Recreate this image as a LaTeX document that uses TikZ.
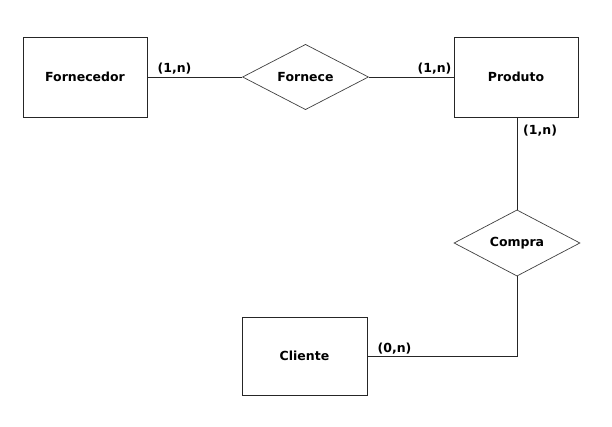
\documentclass[tikz,border=0pt]{standalone}
\usepackage{fontspec}
\setmainfont{DejaVu Sans}
\usetikzlibrary{shapes.geometric,shadows}

\begin{document}
\begin{tikzpicture}[x=1pt, y=-1pt,
	every node/.style={font=\fontsize{12.5}{14}\selectfont\bfseries},
	entidade/.style={draw=black!85, line width=0.9pt, fill=white, minimum width=124pt, minimum height=80pt, inner sep=0pt,
		drop shadow={shadow xshift=1.2pt, shadow yshift=-1.2pt, fill=gray!60, opacity=0.8}},
	relacao/.style={diamond, draw=black!75, line width=0.7pt, fill=white, minimum width=126pt, minimum height=61pt, inner sep=0pt},
	card/.style={inner sep=0pt},
	liga/.style={draw=black!85, line width=0.9pt}]
	\useasboundingbox (0,0) rectangle (612,427);

	\node[entidade] (forn) at (85,77) {Fornecedor};
	\node[relacao] (fornece) at (305.5,77) {Fornece};
	\node[entidade] (prod) at (516,77) {Produto};
	\node[relacao] (compra) at (517,243) {Compra};
	\node[entidade, minimum width=125pt, minimum height=78pt] (cli) at (304.5,356) {Cliente};

	\draw[liga] (forn.east) -- (fornece.west);
	\draw[liga] (fornece.east) -- (prod.west);
	\draw[liga] (prod.south -| compra.north) -- (compra.north);
	\draw[liga] (compra.south) |- (cli.east);

	% cardinalidades
	\node[card, anchor=base west] at ([xshift=10pt, yshift=4pt]forn.east) {(1,n)};
	\node[card, anchor=base east] at ([xshift=-2pt, yshift=4pt]prod.west) {(1,n)};
	\node[card, anchor=base west] at ([xshift=7pt, yshift=-17pt]prod.south) {(1,n)};
	\node[card, anchor=base west] at ([xshift=10pt, yshift=4pt]cli.east) {(0,n)};
\end{tikzpicture}
\end{document}
